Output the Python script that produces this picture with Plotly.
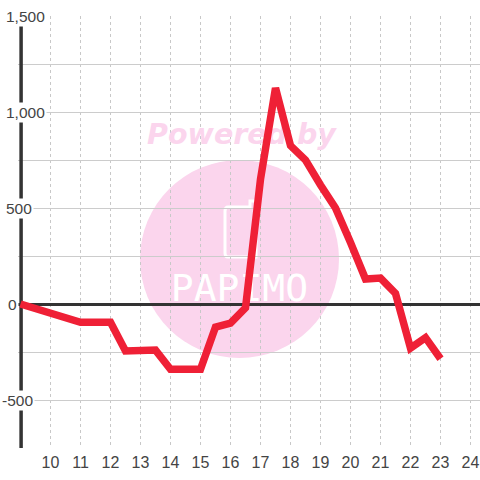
import plotly.graph_objects as go

hours = [9, 11, 12, 12.5, 13.5, 14, 15, 15.5, 16, 16.5, 17, 17.5, 18, 18.5, 19, 19.5, 20, 20.5, 21, 21.5, 22, 22.5, 23]
values = [0, -95, -95, -245, -240, -340, -340, -120, -100, -20, 650, 1125, 825, 750, 620, 500, 320, 130, 135, 55, -230, -175, -285]
x_ticks = list(range(10, 25))
y_labels = [1500, 1000, 500, 0, -500]

L, T, W, H = 18, 16, 462, 432
def px(p): return (p - L) / W
def py(p): return 1 - (p - T) / H
def dx(p): return 10 + (p - 50.5) / 30
def dy(p): return (304 - p) * 1500 / 288

PINK = "#fbd5ed"
fig = go.Figure()
fig.add_trace(go.Scatter(x=[dx(241.5)], y=[dy(137)], mode="text", text=["Powered by"],
                         textfont=dict(family="DejaVu Sans", size=28.5, color=PINK, weight="bold", style="italic"),
                         hoverinfo="skip", showlegend=False))
fig.add_trace(go.Scatter(x=[dx(239.5)], y=[dy(291)], mode="text", text=["PAPIMO"],
                         textfont=dict(family="DejaVu Sans Mono", size=38, color="white"),
                         hoverinfo="skip", showlegend=False))
fig.add_trace(go.Scatter(x=hours, y=values, mode="lines",
                         line=dict(color="#ef2036", width=7.5), hoverinfo="skip", showlegend=False))

shapes = [
    dict(type="circle", xref="paper", yref="paper", layer="below",
         x0=px(140), x1=px(339), y0=py(358), y1=py(160), fillcolor=PINK, line=dict(width=0)),
    dict(type="path", xref="paper", yref="paper", layer="below",
         path=f"M {px(228)} {py(207)} L {px(250)} {py(207)} L {px(250)} {py(201)} L {px(256)} {py(201)} "
              f"L {px(256)} {py(257)} L {px(228)} {py(257)} Q {px(225)} {py(257)} {px(225)} {py(253)} "
              f"L {px(225)} {py(211)} Q {px(225)} {py(207)} {px(228)} {py(207)} Z",
         line=dict(color="white", width=3)),
    dict(type="line", xref="x", yref="y", layer="between", x0=9.02, x1=9.02, y0=-750, y1=1500,
         line=dict(color="#333333", width=3.5)),
]

left_edge = {1500: 6, 1000: 6, 500: 6, 0: 8, -500: 2}
annotations = [
    dict(x=px(left_edge[v] - 2), xref="paper", y=v, yref="y", xanchor="left", yanchor="middle",
         text=f"{v:,}", showarrow=False, bgcolor="white", font=dict(family="Liberation Sans", size=15.5, color="#444444"))
    for v in y_labels
]

fig.update_layout(
    width=480, height=480, autosize=False,
    margin=dict(l=L, r=0, t=T, b=32),
    paper_bgcolor="white", plot_bgcolor="white",
    shapes=shapes, annotations=annotations,
    xaxis=dict(range=[dx(L), dx(480)], tickvals=x_ticks, ticklen=0, showline=False, zeroline=False,
               showgrid=True, gridcolor="#c8c8c8", griddash="3px,3px", gridwidth=1,
               ticklabelstandoff=3,
               tickfont=dict(family="Liberation Sans", size=16, color="#444444")),
    yaxis=dict(range=[-750, 1500], dtick=250, tick0=0, showticklabels=False, ticklen=0,
               showline=False, showgrid=True, gridcolor="#cccccc", gridwidth=1.3,
               zeroline=True, zerolinecolor="#333333", zerolinewidth=3),
)
fig.write_html("out.html", config=dict(displayModeBar=False),
               post_script="document.body.style.margin='0';document.documentElement.style.overflow='hidden';"
                           "document.querySelectorAll('.js-line').forEach(function(e){e.style.strokeLinejoin='miter';});")
